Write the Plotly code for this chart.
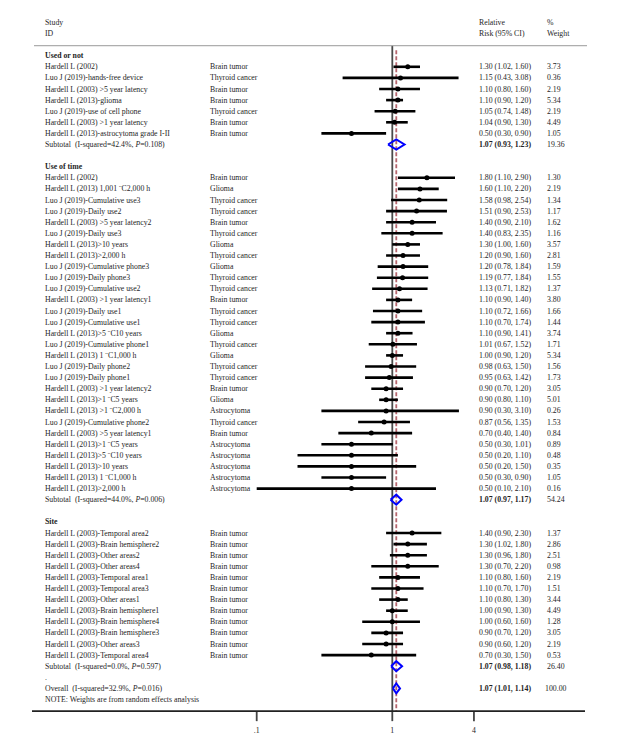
import math
import plotly.graph_objects as go

# ---------------- data ----------------
used_study = ["Hardell L (2002)", "Luo J (2019)-hands-free device", "Hardell L (2003) >5 year latency",
              "Hardell L (2013)-glioma", "Luo J (2019)-use of cell phone", "Hardell L (2003) >1 year latency",
              "Hardell L (2013)-astrocytoma grade I-II"]
used_type = ["Brain tumor", "Thyroid cancer", "Brain tumor", "Brain tumor", "Thyroid cancer", "Brain tumor", "Brain tumor"]
used_rr = [1.30, 1.15, 1.10, 1.10, 1.05, 1.04, 0.50]
used_lo = [1.02, 0.43, 0.80, 0.90, 0.74, 0.90, 0.30]
used_hi = [1.60, 3.08, 1.60, 1.20, 1.48, 1.30, 0.90]
used_w = [3.73, 0.36, 2.19, 5.34, 2.19, 4.49, 1.05]

time_study = ["Hardell L (2002)", "Hardell L (2013) 1,001 ¨C2,000 h", "Luo J (2019)-Cumulative use3",
              "Luo J (2019)-Daily use2", "Hardell L (2003) >5 year latency2", "Luo J (2019)-Daily use3",
              "Hardell L (2013)>10 years", "Hardell L (2013)>2,000 h", "Luo J (2019)-Cumulative phone3",
              "Luo J (2019)-Daily phone3", "Luo J (2019)-Cumulative use2", "Hardell L (2003) >1 year latency1",
              "Luo J (2019)-Daily use1", "Luo J (2019)-Cumulative use1", "Hardell L (2013)>5 ¨C10 years",
              "Luo J (2019)-Cumulative phone1", "Hardell L (2013) 1 ¨C1,000 h", "Luo J (2019)-Daily phone2",
              "Luo J (2019)-Daily phone1", "Hardell L (2003) >1 year latency2", "Hardell L (2013)>1 ¨C5 years",
              "Hardell L (2013) >1 ¨C2,000 h", "Luo J (2019)-Cumulative phone2", "Hardell L (2003) >5 year latency1",
              "Hardell L (2013)>1 ¨C5 years", "Hardell L (2013)>5 ¨C10 years", "Hardell L (2013)>10 years",
              "Hardell L (2013) 1 ¨C1,000 h", "Hardell L (2013)>2,000 h"]
time_type = ["Brain tumor", "Glioma", "Thyroid cancer", "Thyroid cancer", "Brain tumor", "Thyroid cancer",
             "Glioma", "Thyroid cancer", "Glioma", "Thyroid cancer", "Thyroid cancer", "Brain tumor",
             "Thyroid cancer", "Thyroid cancer", "Glioma", "Thyroid cancer", "Glioma", "Thyroid cancer",
             "Thyroid cancer", "Brain tumor", "Glioma", "Astrocytoma", "Thyroid cancer", "Brain tumor",
             "Astrocytoma", "Astrocytoma", "Astrocytoma", "Astrocytoma", "Astrocytoma"]
time_rr = [1.80, 1.60, 1.58, 1.51, 1.40, 1.40, 1.30, 1.20, 1.20, 1.19, 1.13, 1.10, 1.10, 1.10, 1.10,
           1.01, 1.00, 0.98, 0.95, 0.90, 0.90, 0.90, 0.87, 0.70, 0.50, 0.50, 0.50, 0.50, 0.50]
time_lo = [1.10, 1.10, 0.98, 0.90, 0.90, 0.83, 1.00, 0.90, 0.78, 0.77, 0.71, 0.90, 0.72, 0.70, 0.90,
           0.67, 0.90, 0.63, 0.63, 0.70, 0.80, 0.30, 0.56, 0.40, 0.30, 0.20, 0.20, 0.30, 0.10]
time_hi = [2.90, 2.20, 2.54, 2.53, 2.10, 2.35, 1.60, 1.60, 1.84, 1.84, 1.82, 1.40, 1.66, 1.74, 1.41,
           1.52, 1.20, 1.50, 1.42, 1.20, 1.10, 3.10, 1.35, 1.40, 1.01, 1.10, 1.50, 0.90, 2.10]
time_w = [1.30, 2.19, 1.34, 1.17, 1.62, 1.16, 3.57, 2.81, 1.59, 1.55, 1.37, 3.80, 1.66, 1.44, 3.74,
          1.71, 5.34, 1.56, 1.73, 3.05, 5.01, 0.26, 1.53, 0.84, 0.89, 0.48, 0.35, 1.05, 0.16]

site_study = ["Hardell L (2003)-Temporal area2", "Hardell L (2003)-Brain hemisphere2", "Hardell L (2003)-Other areas2",
              "Hardell L (2003)-Other areas4", "Hardell L (2003)-Temporal area1", "Hardell L (2003)-Temporal area3",
              "Hardell L (2003)-Other areas1", "Hardell L (2003)-Brain hemisphere1", "Hardell L (2003)-Brain hemisphere4",
              "Hardell L (2003)-Brain hemisphere3", "Hardell L (2003)-Other areas3", "Hardell L (2003)-Temporal area4"]
site_type = ["Brain tumor"] * 12
site_rr = [1.40, 1.30, 1.30, 1.30, 1.10, 1.10, 1.10, 1.00, 1.00, 0.90, 0.90, 0.70]
site_lo = [0.90, 1.02, 0.96, 0.70, 0.80, 0.70, 0.80, 0.90, 0.60, 0.70, 0.60, 0.30]
site_hi = [2.30, 1.80, 1.80, 2.20, 1.60, 1.70, 1.30, 1.30, 1.60, 1.20, 1.20, 1.50]
site_w = [1.37, 2.86, 2.51, 0.98, 2.19, 1.51, 3.44, 4.49, 1.28, 3.05, 2.19, 0.53]

group_names = ["Used or not", "Use of time", "Site"]
sub_label = ["Subtotal  (I-squared=42.4%, <i>P</i>=0.108)",
             "Subtotal  (I-squared=44.0%, <i>P</i>=0.006)",
             "Subtotal  (I-squared=0.0%, <i>P</i>=0.597)"]
sub_rr = [1.07, 1.07, 1.07]
sub_lo = [0.93, 0.97, 0.98]
sub_hi = [1.23, 1.17, 1.18]
sub_w = [19.36, 54.24, 26.40]

overall_label = "Overall  (I-squared=32.9%, <i>P</i>=0.016)"
overall_rr, overall_lo, overall_hi, overall_w = 1.07, 1.01, 1.14, 100.00

tick_vals = [0.1, 1, 4]
tick_text = [".1", "1", "4"]

# ---------------- layout constants (page pixels; page has an 8px body margin) ----------------
OFF = 8
W, H = 618 - 2 * OFF, 742 - 2 * OFF
ROW0_PX, ROW_PX = 55.7 - OFF, 11.1      # y of first row, row spacing
X1_PX, DEC_PX = 392.3 - OFF, 135.6      # x of RR=1, pixels per decade
COL_STUDY, COL_TYPE, COL_CI, COL_W = 44 - OFF, 209 - OFF, 478 - OFF, 546 - OFF
FONT = "Liberation Serif"
FS = 7.8
TXT = "#1e1e1e"

groups = [
    (used_study, used_type, used_rr, used_lo, used_hi, used_w),
    (time_study, time_type, time_rr, time_lo, time_hi, time_w),
    (site_study, site_type, site_rr, site_lo, site_hi, site_w),
]

annots = []


def txt(xpx, row, s, size=FS):
    annots.append(dict(x=xpx / W, xref="paper", y=row, yref="y", text=s, showarrow=False,
                       xanchor="left", yanchor="middle", borderpad=0,
                       font=dict(family=FONT, size=size, color=TXT)))


ci_x, ci_y, pt_x, pt_y = [], [], [], []
dia_x, dia_y = [], []


def diamond(row, rr, lo, hi):
    dia_x.extend([lo, rr, hi, rr, lo, None])
    dia_y.extend([row, row - 0.45, row, row + 0.45, row, None])


row = 0
for gi, (st, ty, rr, lo, hi, w) in enumerate(groups):
    txt(COL_STUDY, row, "<b>%s</b>" % group_names[gi])
    row += 1
    for i in range(len(st)):
        txt(COL_STUDY, row, st[i])
        txt(COL_TYPE, row, ty[i])
        txt(COL_CI, row, "%.2f (%.2f, %.2f)" % (rr[i], lo[i], hi[i]))
        txt(COL_W, row, "%.2f" % w[i])
        ci_x.extend([lo[i], hi[i], None])
        ci_y.extend([row, row, None])
        pt_x.append(rr[i])
        pt_y.append(row)
        row += 1
    txt(COL_STUDY, row, sub_label[gi])
    txt(COL_CI, row, "<b>%.2f (%.2f, %.2f)</b>" % (sub_rr[gi], sub_lo[gi], sub_hi[gi]))
    txt(COL_W, row, "%.2f" % sub_w[gi])
    diamond(row, sub_rr[gi], sub_lo[gi], sub_hi[gi])
    row += 1
    if gi < len(groups) - 1:
        row += 1

txt(COL_STUDY, row, ".")
row += 1
txt(COL_STUDY, row, overall_label)
txt(COL_CI, row, "<b>%.2f (%.2f, %.2f)</b>" % (overall_rr, overall_lo, overall_hi))
txt(COL_W - 2, row, "%.2f" % overall_w)
diamond(row, overall_rr, overall_lo, overall_hi)
row += 1
txt(COL_STUDY, row, "NOTE: Weights are from random effects analysis")
note_row = row

# header
txt(COL_STUDY, -3, "Study")
txt(COL_STUDY, -2, "ID")
txt(COL_CI, -3, "Relative")
txt(COL_CI, -2, "Risk (95% CI)")
txt(COL_W, -3, "%")
txt(COL_W, -2, "Weight")

SEP_ROW = -0.9
AX_ROW = note_row + 1.05

fig = go.Figure()

# vertical null line at RR = 1
fig.add_trace(go.Scatter(x=[1, 1], y=[SEP_ROW, AX_ROW], mode="lines",
                         line=dict(color="#4a4a4a", width=1.8), hoverinfo="skip"))
# overall effect dashed line
fig.add_trace(go.Scatter(x=[overall_rr, overall_rr], y=[-0.5, AX_ROW], mode="lines",
                         line=dict(color="#b5666e", width=1.8, dash="4px,2px"), hoverinfo="skip"))
# CI lines
fig.add_trace(go.Scatter(x=ci_x, y=ci_y, mode="lines", line=dict(color="black", width=2.6),
                         hoverinfo="skip"))
# point estimates
fig.add_trace(go.Scatter(x=pt_x, y=pt_y, mode="markers",
                         marker=dict(color="black", size=5, symbol="circle"), hoverinfo="skip"))
# diamonds
fig.add_trace(go.Scatter(x=dia_x, y=dia_y, mode="lines", line=dict(color="#0000ff", width=2),
                         hoverinfo="skip"))
# ticks
tk_x, tk_y = [], []
for v in tick_vals:
    tk_x.extend([v, v, None])
    tk_y.extend([AX_ROW, AX_ROW + 0.9, None])
fig.add_trace(go.Scatter(x=tk_x, y=tk_y, mode="lines", line=dict(color="#444", width=1.8),
                         hoverinfo="skip"))
fig.add_trace(go.Scatter(x=tick_vals, y=[AX_ROW + 1.8] * len(tick_vals), mode="text",
                         text=tick_text, textposition="middle center",
                         textfont=dict(family=FONT, size=FS, color=TXT), hoverinfo="skip"))

shapes = [
    dict(type="line", xref="paper", yref="y", x0=(34 - OFF) / W, x1=(587 - OFF) / W, y0=SEP_ROW, y1=SEP_ROW,
         line=dict(color="#9a9a9a", width=1)),
    dict(type="line", xref="paper", yref="y", x0=(32 - OFF) / W, x1=(585 - OFF) / W, y0=AX_ROW, y1=AX_ROW,
         line=dict(color="#222", width=1.6)),
]

fig.update_layout(
    width=W, height=H, margin=dict(l=0, r=0, t=0, b=0),
    paper_bgcolor="white", plot_bgcolor="white", showlegend=False,
    xaxis=dict(type="log", range=[-X1_PX / DEC_PX, (W - X1_PX) / DEC_PX], visible=False,
               showgrid=False, zeroline=False),
    yaxis=dict(range=[(H - ROW0_PX) / ROW_PX, -ROW0_PX / ROW_PX], visible=False,
               showgrid=False, zeroline=False),
    annotations=annots, shapes=shapes,
)

fig.write_html("out.html")
